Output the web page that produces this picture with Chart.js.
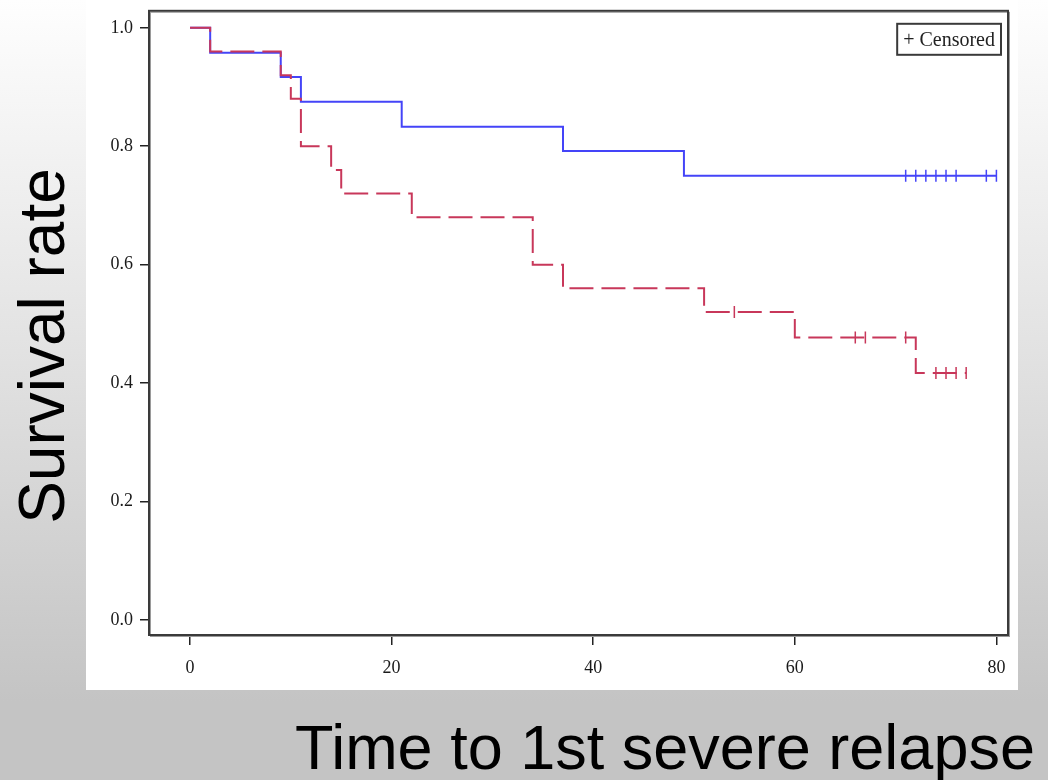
<!DOCTYPE html>
<html>
<head>
<meta charset="utf-8">
<script src="https://cdn.jsdelivr.net/npm/chart.js@4/dist/chart.umd.min.js"></script>
<style>
  html, body { margin: 0; padding: 0; }
  body {
    width: 1048px; height: 780px; overflow: hidden; position: relative;
    background: linear-gradient(to bottom, #fefefe 0%, #e2e2e2 45%, #c4c4c4 90%, #c4c4c4 100%);
    font-family: 'Liberation Sans', Arial, sans-serif;
  }
  #panel { position: absolute; left: 86px; top: 0; width: 932px; height: 690px; background: #fff; overflow: hidden; }
  #wrap { position: absolute; left: 0; top: -7px; width: 932px; height: 697px; }
  #ytitle {
    position: absolute; left: 42px; top: 346px; font-size: 64px; line-height: 1;
    white-space: nowrap; color: #000;
    transform: translate(-50%, -50%) rotate(-90deg);
  }
  #xtitle {
    position: absolute; left: 295px; top: 716px; font-size: 63px; line-height: 1;
    white-space: nowrap; color: #000;
  }
</style>
</head>
<body>
<div id="panel"><div id="wrap"><canvas id="kmChart"></canvas></div></div>
<div id="ytitle">Survival rate</div>
<div id="xtitle">Time to 1st severe relapse</div>
<script>
// group 1 (solid blue)
const blueTimes = [0, 2, 9, 11, 21, 37, 49]
const blueSurv = [1.0, 0.958, 0.917, 0.875, 0.833, 0.792, 0.75]
const blueCensored = [71, 72, 73, 74, 75, 76, 79, 80]

// group 2 (dashed red)
const redTimes = [0, 2, 9, 10, 11, 14, 15, 22, 34, 37, 51, 60, 72]
const redSurv = [1.0, 0.96, 0.92, 0.88, 0.80, 0.76, 0.72, 0.68, 0.60, 0.56, 0.52, 0.477, 0.417]
const redCensored = [54, 66, 67, 71, 74, 75, 76, 77]

const xTicks = [0, 20, 40, 60, 80]
const yTicks = [0, 0.2, 0.4, 0.6, 0.8, 1.0]

const BLUE = '#4444f8'
const RED = '#c8375a'

// survival value at time t from a step curve
function survAt(times, surv, t) {
  let v = surv[0]
  times.forEach((tt, i) => { if (tt <= t) v = surv[i] })
  return v
}

function curvePoints(times, surv, censored) {
  const pts = times.map((t, i) => ({ x: t, y: surv[i] }))
  const lastT = Math.max(...censored)
  pts.push({ x: lastT, y: surv[surv.length - 1] })
  return pts
}

function censorPoints(times, surv, censored) {
  return censored.map(t => ({ x: t, y: survAt(times, surv, t) }))
}

// frame around plot + censored legend box
const framePlugin = {
  id: 'frame',
  afterDraw(chart) {
    const { ctx, chartArea: a } = chart
    ctx.save()
    ctx.strokeStyle = '#9a9a9a'
    ctx.lineWidth = 1
    ctx.strokeRect(a.left + 1.5, a.top + 1.5, a.right - a.left, a.bottom - a.top)
    ctx.strokeStyle = '#3a3a3a'
    ctx.lineWidth = 2
    ctx.strokeRect(a.left, a.top, a.right - a.left, a.bottom - a.top)

    // legend
    const text = '+ Censored'
    ctx.font = '20px "Liberation Serif", "Times New Roman", serif'
    const w = ctx.measureText(text).width + 12
    const h = 31
    const x = a.right - 7 - w
    const y = a.top + 13
    ctx.fillStyle = '#fff'
    ctx.fillRect(x, y, w, h)
    ctx.strokeStyle = '#3a3a3a'
    ctx.lineWidth = 2
    ctx.strokeRect(x, y, w, h)
    ctx.fillStyle = '#222'
    ctx.textBaseline = 'middle'
    ctx.fillText(text, x + 6, y + h / 2 + 1)
    ctx.restore()
  }
}

const tickFont = { family: '"Liberation Serif", "Times New Roman", serif', size: 18 }

new Chart(document.getElementById('kmChart'), {
  type: 'scatter',
  data: {
    datasets: [
      {
        type: 'line',
        data: curvePoints(redTimes, redSurv, redCensored),
        borderColor: RED,
        borderWidth: 2,
        borderDash: [24, 8],
        stepped: true,
        pointRadius: 0,
        fill: false,
        order: 0,
      },
      {
        data: censorPoints(redTimes, redSurv, redCensored),
        borderColor: RED,
        backgroundColor: RED,
        borderWidth: 1.5,
        pointStyle: 'line',
        rotation: 90,
        pointRadius: 6,
        showLine: false,
        order: 0,
      },
      {
        type: 'line',
        data: curvePoints(blueTimes, blueSurv, blueCensored),
        borderColor: BLUE,
        borderWidth: 2,
        stepped: true,
        pointRadius: 0,
        fill: false,
        order: 1,
      },
      {
        data: censorPoints(blueTimes, blueSurv, blueCensored),
        borderColor: BLUE,
        backgroundColor: BLUE,
        borderWidth: 1.5,
        pointStyle: 'line',
        rotation: 90,
        pointRadius: 6,
        showLine: false,
        order: 1,
      },
    ],
  },
  options: {
    responsive: true,
    maintainAspectRatio: false,
    animation: false,
    layout: { padding: { left: 0, right: 10, top: 0, bottom: 0 } },
    scales: {
      x: {
        type: 'linear',
        min: -4.07,
        max: 81.15,
        afterBuildTicks: (axis) => { axis.ticks = xTicks.map(v => ({ value: v })) },
        afterFit: (axis) => { axis.height = 55 },
        border: { display: false },
        grid: { display: true, drawOnChartArea: false, drawTicks: true, tickLength: 10, color: '#222', lineWidth: 1.5 },
        ticks: { font: tickFont, color: '#1a1a1a', padding: 12, maxRotation: 0 },
      },
      y: {
        type: 'linear',
        min: -0.0253,
        max: 1.0287,
        afterBuildTicks: (axis) => { axis.ticks = yTicks.map(v => ({ value: v })) },
        afterFit: (axis) => { axis.width = 63 },
        border: { display: false },
        grid: { display: true, drawOnChartArea: false, drawTicks: true, tickLength: 9, color: '#222', lineWidth: 1.5 },
        ticks: { font: tickFont, color: '#1a1a1a', padding: 7, callback: (v) => v.toFixed(1) },
      },
    },
    plugins: {
      legend: { display: false },
      tooltip: { enabled: false },
    },
  },
  plugins: [framePlugin],
})
</script>
</body>
</html>
